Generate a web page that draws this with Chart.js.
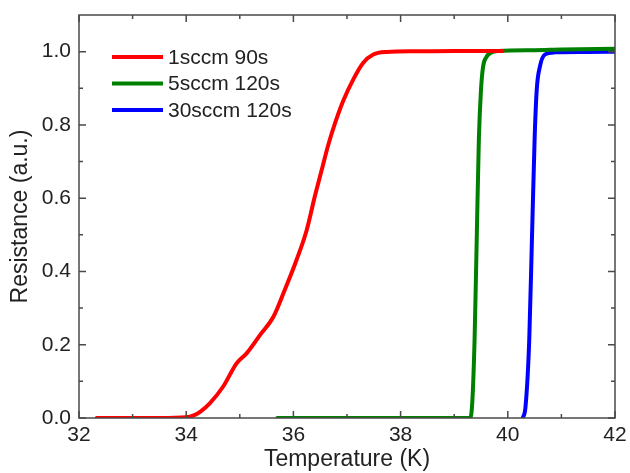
<!DOCTYPE html>
<html>
<head>
<meta charset="utf-8">
<script src="https://cdn.jsdelivr.net/npm/chart.js@4/dist/chart.umd.min.js"></script>
<style>
  html, body { margin: 0; padding: 0; background: #ffffff; }
  #wrap { width: 630px; height: 473px; position: relative; }
</style>
</head>
<body>
<div id="wrap"><canvas id="c" width="630" height="473"></canvas></div>
<script>
// ---- data ----
const seriesLabels = ['1sccm 90s', '5sccm 120s', '30sccm 120s'];
const seriesColors = ['#ff0000', '#008000', '#0000ff'];

const redT = [32.33, 33.0, 33.5, 34.0, 34.15, 34.26, 34.44, 34.69, 34.94, 35.13, 35.38, 35.63, 35.84, 36.06, 36.25, 36.40, 36.53, 36.65, 36.78, 36.93, 37.12, 37.30, 37.49, 37.74, 38.3, 39.0, 39.9];
const redR = [0.0, 0.0, 0.0, 0.002, 0.008, 0.017, 0.04, 0.086, 0.149, 0.177, 0.227, 0.277, 0.350, 0.432, 0.514, 0.605, 0.678, 0.745, 0.806, 0.866, 0.925, 0.969, 0.992, 0.999, 1.001, 1.002, 1.002];

const greenT = [35.7, 37.0, 38.0, 39.0, 39.30, 39.34, 39.38, 39.42, 39.46, 39.50, 39.54, 39.60, 39.67, 39.82, 40.5, 41.0, 42.0];
const greenR = [0.0, 0.0, 0.0, 0.0, 0.0, 0.05, 0.213, 0.486, 0.76, 0.896, 0.96, 0.985, 0.996, 1.002, 1.004, 1.006, 1.008];

const blueT = [40.28, 40.33, 40.40, 40.45, 40.50, 40.54, 40.60, 40.69, 40.88, 41.5, 42.0];
const blueR = [0.0, 0.03, 0.213, 0.486, 0.76, 0.896, 0.96, 0.992, 0.998, 0.999, 1.0];

const xTickValues = [32, 34, 36, 38, 40, 42];
const xMinorValues = [33, 35, 37, 39, 41];
const yTickValues = [0.0, 0.2, 0.4, 0.6, 0.8, 1.0];
const yMinorValues = [0.1, 0.3, 0.5, 0.7, 0.9];

const xTitle = 'Temperature (K)';
const yTitle = 'Resistance (a.u.)';

// ---- build chart ----
function pts(xs, ys) { return xs.map((x, i) => ({ x: x, y: ys[i] })); }

const FONT = "'Liberation Sans', Arial, sans-serif";
const AXIS_COLOR = '#4a4a4a';

const framePlugin = {
  id: 'frameTicks',
  afterDatasetsDraw(chart) {
    const { ctx, chartArea: a, scales: { x, y } } = chart;
    ctx.save();
    ctx.strokeStyle = AXIS_COLOR;
    ctx.lineWidth = 1.5;
    ctx.strokeRect(a.left, a.top, a.right - a.left, a.bottom - a.top);
    ctx.beginPath();
    const major = 7, minor = 4;
    xTickValues.forEach(v => {
      const p = x.getPixelForValue(v);
      ctx.moveTo(p, a.bottom); ctx.lineTo(p, a.bottom - major);
      ctx.moveTo(p, a.top); ctx.lineTo(p, a.top + major);
    });
    xMinorValues.forEach(v => {
      const p = x.getPixelForValue(v);
      ctx.moveTo(p, a.bottom); ctx.lineTo(p, a.bottom - minor);
      ctx.moveTo(p, a.top); ctx.lineTo(p, a.top + minor);
    });
    yTickValues.forEach(v => {
      const p = y.getPixelForValue(v);
      ctx.moveTo(a.left, p); ctx.lineTo(a.left + major, p);
      ctx.moveTo(a.right, p); ctx.lineTo(a.right - major, p);
    });
    yMinorValues.forEach(v => {
      const p = y.getPixelForValue(v);
      ctx.moveTo(a.left, p); ctx.lineTo(a.left + minor, p);
      ctx.moveTo(a.right, p); ctx.lineTo(a.right - minor, p);
    });
    ctx.stroke();
    ctx.restore();
  },
  afterDraw(chart) {
    // legend inside plot area, top-left
    const { ctx, chartArea: a } = chart;
    ctx.save();
    ctx.font = '21px ' + FONT;
    ctx.textBaseline = 'middle';
    ctx.textAlign = 'left';
    const x0 = a.left + 33, x1 = a.left + 84, tx = a.left + 89;
    chart.data.datasets.forEach((ds, i) => {
      const yy = a.top + 42 + i * 26.5;
      ctx.strokeStyle = ds.borderColor;
      ctx.lineWidth = 4;
      ctx.beginPath(); ctx.moveTo(x0, yy); ctx.lineTo(x1, yy); ctx.stroke();
      ctx.fillStyle = '#222222';
      ctx.fillText(ds.label, tx, yy + 1);
    });
    ctx.restore();
  }
};

const datasets = [
  { label: seriesLabels[0], data: pts(redT, redR), borderColor: seriesColors[0] },
  { label: seriesLabels[1], data: pts(greenT, greenR), borderColor: seriesColors[1] },
  { label: seriesLabels[2], data: pts(blueT, blueR), borderColor: seriesColors[2] }
].map(d => Object.assign(d, {
  borderWidth: 4, pointRadius: 0, fill: false,
  cubicInterpolationMode: 'monotone', borderCapStyle: 'round', borderJoinStyle: 'round'
}));

new Chart(document.getElementById('c'), {
  type: 'line',
  data: { datasets: datasets },
  options: {
    responsive: false,
    animation: false,
    events: [],
    layout: { padding: { top: 15, right: 15, left: 0, bottom: 0 } },
    plugins: { legend: { display: false }, tooltip: { enabled: false } },
    scales: {
      x: {
        type: 'linear', min: 32, max: 42,
        afterBuildTicks: s => { s.ticks = xTickValues.map(v => ({ value: v })); },
        afterFit: s => { s.height = 55; s.paddingLeft = 0; s.paddingRight = 0; },
        grid: { display: false, drawTicks: false },
        border: { display: false },
        ticks: { color: '#222222', font: { family: FONT, size: 21 }, padding: 5, maxRotation: 0,
                 callback: v => String(v) },
        title: { display: true, text: xTitle, color: '#222222', font: { family: FONT, size: 23 },
                 padding: { top: 0, bottom: 0 } }
      },
      y: {
        type: 'linear', min: 0, max: 1.1,
        afterBuildTicks: s => { s.ticks = yTickValues.map(v => ({ value: v })); },
        afterFit: s => { s.width = 79; s.paddingTop = 0; s.paddingBottom = 0; },
        grid: { display: false, drawTicks: false },
        border: { display: false },
        ticks: { color: '#222222', font: { family: FONT, size: 21 }, padding: 8,
                 callback: v => Number(v).toFixed(1) },
        title: { display: true, text: yTitle, color: '#222222', font: { family: FONT, size: 23 },
                 padding: { top: 7, bottom: 0 } }
      }
    }
  },
  plugins: [framePlugin]
});
</script>
</body>
</html>
